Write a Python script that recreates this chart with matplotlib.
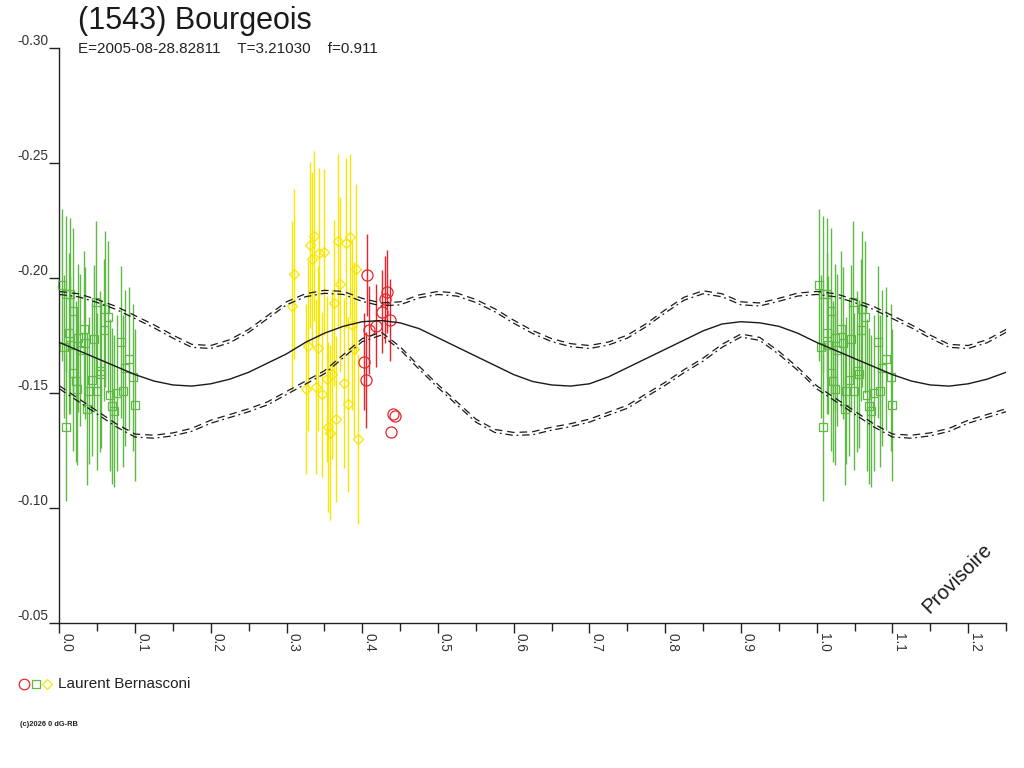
import numpy as np
import matplotlib
matplotlib.use("Agg")
import matplotlib.pyplot as plt
from matplotlib.lines import Line2D

plt.rcParams['font.family'] = ['Liberation Sans', 'DejaVu Sans']

# ---------------- data ----------------
title = "(1543) Bourgeois"
subtitle = "E=2005-08-28.82811    T=3.21030    f=0.911"
observer = "Laurent Bernasconi"
watermark = "Provisoire"
credit = "(c)2026 0 dG-RB"

green_phase = [0.0036, 0.0088, 0.0141, 0.0185, 0.0062, 0.0132, 0.0246, 0.0325, 0.0342,
               0.0457, 0.0483, 0.0605, 0.0641, 0.0588, 0.0185, 0.0220, 0.0237, 0.0387,
               0.0492, 0.0430, 0.0536, 0.0553, 0.0816, 0.0921, 0.0868, 0.0975, 0.0667,
               0.0763, 0.0842, 0.1000, 0.0369, 0.0693, 0.0720, 0.0088, 0.0145, 0.0268]
green_mag = [-0.1971, -0.1930, -0.1930, -0.1858, -0.1701, -0.1760, -0.1739, -0.1777, -0.1716,
             -0.1736, -0.1896, -0.1864, -0.1832, -0.1774, -0.1586, -0.1551, -0.1519, -0.1510,
             -0.1507, -0.1557, -0.1594, -0.1583, -0.1722, -0.1649, -0.1609, -0.1568, -0.1493,
             -0.1501, -0.1510, -0.1449, -0.1429, -0.1443, -0.1423, -0.1351, -0.1707, -0.1687]
green_err = [0.033, 0.034, 0.033, 0.036, 0.031, 0.035, 0.032, 0.034, 0.033,
             0.032, 0.035, 0.034, 0.033, 0.031, 0.034, 0.035, 0.033, 0.032,
             0.034, 0.033, 0.035, 0.032, 0.033, 0.031, 0.034, 0.032, 0.033,
             0.034, 0.033, 0.033, 0.033, 0.034, 0.033, 0.032, 0.030, 0.033]

yellow_phase = [0.3097, 0.3071, 0.3360, 0.3308, 0.3342, 0.3430, 0.3492, 0.3676, 0.3781,
                0.3834, 0.3913, 0.3702, 0.3624, 0.3869, 0.3281, 0.3413, 0.3895, 0.3597,
                0.3536, 0.3263, 0.3387, 0.3466, 0.3755, 0.3816, 0.3658, 0.3545, 0.3579,
                0.3939]
yellow_mag = [-0.2016, -0.1880, -0.2183, -0.2143, -0.2083, -0.2110, -0.2113, -0.2161, -0.2151,
              -0.2180, -0.2040, -0.1972, -0.1891, -0.1794, -0.1706, -0.1694, -0.1690, -0.1583,
              -0.1562, -0.1519, -0.1527, -0.1494, -0.1543, -0.1451, -0.1386, -0.1351, -0.1327,
              -0.1301]
yellow_err = [0.037, 0.037, 0.037, 0.036, 0.038, 0.037, 0.036, 0.038, 0.037,
              0.036, 0.037, 0.038, 0.036, 0.037, 0.037, 0.036, 0.038, 0.037,
              0.036, 0.037, 0.038, 0.036, 0.037, 0.038, 0.036, 0.037, 0.038,
              0.037]

red_phase = [0.4066, 0.4325, 0.4299, 0.4263, 0.4368, 0.4176, 0.4088, 0.4022, 0.4045,
             0.4404, 0.4430, 0.4378]
red_mag = [-0.2013, -0.1940, -0.1907, -0.1854, -0.1817, -0.1793, -0.1774, -0.1636, -0.1557,
           -0.1409, -0.1400, -0.1329]
red_err = [0.018, 0.018, 0.019, 0.018, 0.018, 0.018, 0.019, 0.021, 0.021,
           0.0, 0.0, 0.0]

curve_phase = [0.000, 0.025, 0.050, 0.075, 0.100, 0.125, 0.150, 0.175, 0.200, 0.225,
               0.250, 0.275, 0.300, 0.325, 0.350, 0.375, 0.400, 0.425, 0.450, 0.475,
               0.500, 0.525, 0.550, 0.575, 0.600, 0.625, 0.650, 0.675, 0.700, 0.725,
               0.750, 0.775, 0.800, 0.825, 0.850, 0.875, 0.900, 0.925, 0.950, 0.975]
fit_mag = [-0.1720, -0.1685, -0.1650, -0.1615, -0.1580, -0.1552, -0.1535, -0.1530, -0.1540, -0.1560,
           -0.1590, -0.1630, -0.1670, -0.1720, -0.1760, -0.1790, -0.1810, -0.1815, -0.1805, -0.1780,
           -0.1740, -0.1700, -0.1660, -0.1620, -0.1580, -0.1550, -0.1535, -0.1530, -0.1540, -0.1570,
           -0.1610, -0.1650, -0.1690, -0.1730, -0.1770, -0.1800, -0.1810, -0.1805, -0.1790, -0.1760]
upper_mag = [-0.1935, -0.1925, -0.1900, -0.1870, -0.1830, -0.1790, -0.1745, -0.1705, -0.1700, -0.1725,
             -0.1770, -0.1830, -0.1890, -0.1925, -0.1940, -0.1935, -0.1905, -0.1885, -0.1890, -0.1920,
             -0.1935, -0.1928, -0.1900, -0.1860, -0.1810, -0.1765, -0.1730, -0.1708, -0.1700, -0.1715,
             -0.1745, -0.1795, -0.1855, -0.1910, -0.1938, -0.1925, -0.1890, -0.1885, -0.1905, -0.1928]
lower_mag = [-0.1525, -0.1470, -0.1415, -0.1360, -0.1315, -0.1310, -0.1320, -0.1340, -0.1375, -0.1400,
             -0.1425, -0.1455, -0.1500, -0.1545, -0.1590, -0.1660, -0.1730, -0.1758, -0.1695, -0.1610,
             -0.1530, -0.1455, -0.1380, -0.1335, -0.1322, -0.1325, -0.1345, -0.1360, -0.1380, -0.1410,
             -0.1440, -0.1490, -0.1540, -0.1595, -0.1645, -0.1705, -0.1750, -0.1735, -0.1675, -0.1605]

# ---------------- helpers ----------------
XMAX = 1.25


def wrap(phase, *cols):
    """repeat points with phase < XMAX-1 at phase+1 (standard phased plot)"""
    p = np.asarray(phase, float)
    m = p <= XMAX - 1
    out = [np.concatenate([p, p[m] + 1])]
    for c in cols:
        c = np.asarray(c, float)
        out.append(np.concatenate([c, c[m]]))
    return out


def wrap_curve(phase, vals):
    p = np.asarray(phase, float)
    v = np.asarray(vals, float)
    p2 = np.concatenate([p, p + 1, [2.0]])
    v2 = np.concatenate([v, v, [v[0]]])
    m = p2 <= XMAX + 0.03
    return p2[m], v2[m]


# ---------------- figure ----------------
fig = plt.figure(figsize=(10.24, 7.68), dpi=100)
ax = fig.add_axes([59.3 / 1024, 1 - 623 / 768, (1006 - 59.3) / 1024, (623 - 48) / 768])

GREEN = '#5fba45'
YELLOW = '#f7e600'
RED = '#e8232a'

for ph, mg, er, col, mk, ms in [
        (green_phase, green_mag, green_err, GREEN, 's', 6.0),
        (yellow_phase, yellow_mag, yellow_err, YELLOW, 'D', 5.0),
        (red_phase, red_mag, red_err, RED, 'o', 8.0)]:
    p, m, e = wrap(ph, mg, er)
    ax.errorbar(p, m, yerr=e, fmt='none', ecolor=col, elinewidth=1.0, capsize=0, zorder=2)
    ax.plot(p, m, linestyle='none', marker=mk, markersize=ms, markerfacecolor='none',
            markeredgecolor=col, markeredgewidth=0.9, zorder=3, clip_on=False)

cp, cv = wrap_curve(curve_phase, fit_mag)
ax.plot(cp, cv, color='#1a1a1a', lw=1.0, zorder=4)
gap = 0.00065
for band in (upper_mag, lower_mag):
    bp, bv = wrap_curve(curve_phase, band)
    ax.plot(bp, bv - gap, color='#1a1a1a', lw=0.9, linestyle=(0, (6, 4)), zorder=4)
    ax.plot(bp, bv + gap, color='#1a1a1a', lw=0.9, linestyle=(0, (6, 3, 1.5, 3)), zorder=4)

ax.set_xlim(0, XMAX)
ax.set_ylim(-0.05, -0.30)

for s in ('top', 'right'):
    ax.spines[s].set_visible(False)
for s in ('left', 'bottom'):
    ax.spines[s].set_color('#222222')
    ax.spines[s].set_linewidth(1.0)

ax.set_yticks([-0.30, -0.25, -0.20, -0.15, -0.10, -0.05])
ax.set_yticklabels(['-0.30', '-0.25', '-0.20', '-0.15', '-0.10', '-0.05'])
ax.tick_params(axis='y', length=7.2, width=1, color='#222222', pad=1,
               labelsize=9.8, labelcolor='#333333')
for lab in ax.get_yticklabels():
    lab.set_verticalalignment('bottom')

xt = [0.0, 0.1, 0.2, 0.3, 0.4, 0.5, 0.6, 0.7, 0.8, 0.9, 1.0, 1.1, 1.2]
ax.set_xticks(xt)
ax.set_xticklabels(['%.1f' % v for v in xt])
ax.set_xticks([0.05 + 0.1 * i for i in range(13)], minor=True)
ax.tick_params(axis='x', which='major', length=7.2, width=1, color='#222222', pad=0,
               labelsize=9.8, labelcolor='#333333', labelrotation=270)
ax.tick_params(axis='x', which='minor', length=6, width=1, color='#222222')
for lab in ax.get_xticklabels():
    lab.set_horizontalalignment('left')
    lab.set_verticalalignment('top')

# texts
fig.text(78 / 1024, 1 - 29 / 768, title, fontsize=22, color='#1a1a1a', va='baseline', ha='left')
fig.text(78 / 1024, 1 - 53 / 768, subtitle, fontsize=11, color='#222222', va='baseline', ha='left')
fig.text(957 / 1024, 1 - 578 / 768, watermark, fontsize=14.5, color='#1a1a1a', rotation=45,
         ha='center', va='center')

# legend
for x, mk, col, ms in [(24, 'o', RED, 7.6), (36, 's', GREEN, 6.0), (47, 'D', YELLOW, 5.0)]:
    fig.add_artist(Line2D([x / 1024], [1 - 684 / 768], transform=fig.transFigure, marker=mk,
                          markersize=ms, markerfacecolor='none', markeredgecolor=col,
                          markeredgewidth=0.9, linestyle='none'))
fig.text(58 / 1024, 1 - 684 / 768, observer, fontsize=11, color='#222222', va='center', ha='left')
fig.text(20 / 1024, 1 - 725 / 768, credit, fontsize=5.4, fontweight='bold', color='#222222',
         va='center', ha='left')

fig.savefig('out.png', dpi=100)
